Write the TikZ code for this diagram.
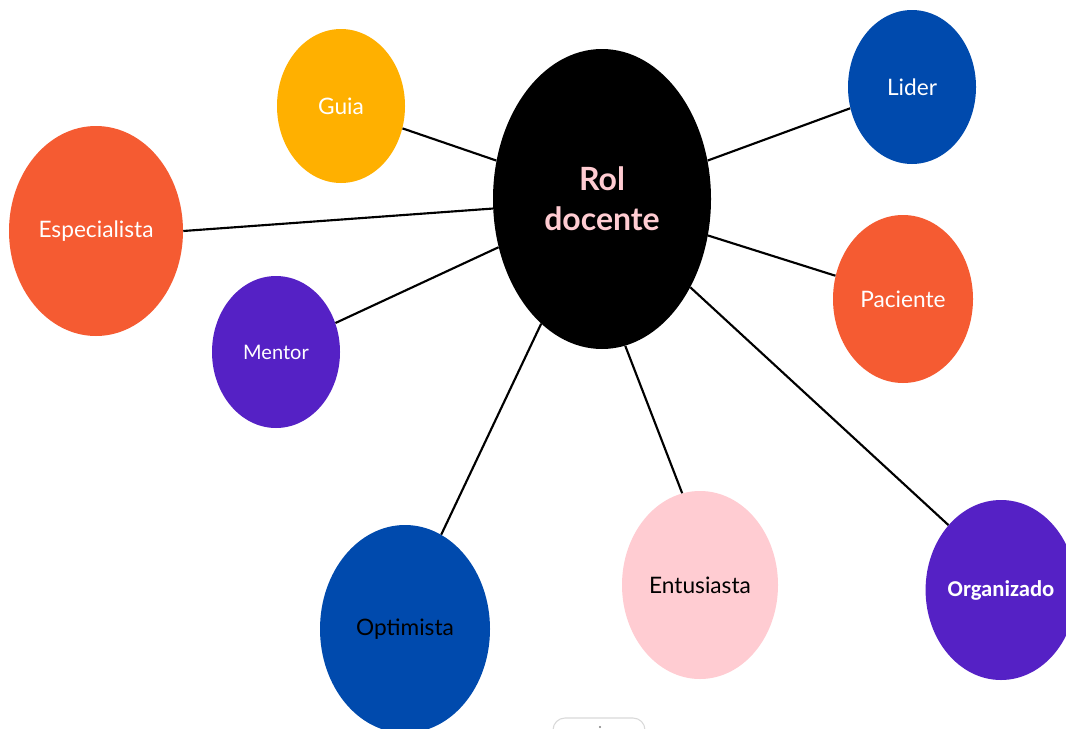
\documentclass[tikz,border=0pt]{standalone}
\usepackage{fontspec}
\setmainfont{Lato}
\newfontfamily\orgfont{Carlito}
\usetikzlibrary{shapes.geometric}
\definecolor{corange}{HTML}{F55B32}
\definecolor{cyellow}{HTML}{FFB000}
\definecolor{cblue}{HTML}{004AAD}
\definecolor{cpurple}{HTML}{5521C5}
\definecolor{cpink}{HTML}{FFCCD2}
\tikzset{
  bub/.style={ellipse, inner sep=0pt, draw=none, align=center},
  lbl/.style={font=\fontsize{17}{20}\selectfont},
  conn/.style={draw=black, line width=1.6pt},
}
\begin{document}
\begin{tikzpicture}[x=0.75pt,y=-0.75pt]
\useasboundingbox (0,0) rectangle (1066,728);
\fill[white] (0,0) rectangle (1066,728);
\node[bub, fill=black, minimum width=163.5pt, minimum height=225pt, text=cpink, font=\fontsize{24}{30}\selectfont\bfseries] (rol) at (602,199) {Rol\\docente};
\node[bub, lbl, fill=cyellow, minimum width=96pt, minimum height=115.5pt, text=white] (guia) at (341,106) {Guia};
\node[bub, lbl, fill=cblue, minimum width=96pt, minimum height=115.5pt, text=white] (lider) at (912,87) {Lider};
\node[bub, lbl, fill=corange, minimum width=130.5pt, minimum height=157.5pt, text=white] (esp) at (96,231) {Especialista};
\node[bub, fill=cpurple, minimum width=96pt, minimum height=114pt, text=white, font=\fontsize{15}{18}\selectfont] (mentor) at (276,352) {Mentor};
\node[bub, lbl, fill=corange, minimum width=105pt, minimum height=126pt, text=white] (pac) at (903,299) {Paciente};
\node[bub, lbl, fill=cblue, minimum width=127.5pt, minimum height=156pt, text=black] (opt) at (405,629) {Optimista};
\node[bub, lbl, fill=cpink, minimum width=117pt, minimum height=141pt, text=black] (ent) at (700,585) {Entusiasta};
\node[bub, fill=cpurple, minimum width=111pt, minimum height=135pt, text=white, font=\orgfont\fontsize{17}{20}\selectfont\bfseries] (org) at (1001,590) {Organizado};
\draw[conn] (rol.160) -- (guia.340.5);
\draw[conn] (rol.185) -- (esp.-0.7);
\draw[conn] (rol.205) -- (mentor.26);
\draw[conn] (rol.244.7) -- (opt.69.7);
\draw[conn] (rol.279.3) -- (ent.101.9);
\draw[conn] (rol.315.6) -- (org.129.5);
\draw[conn] (rol.341) -- (pac.161.6);
\draw[conn] (rol.20.7) -- (lider.199.8);
\draw[black!15, line width=0.8pt, rounded corners=9pt] (553,740) -- (553,718) -- (645,718) -- (645,740);
\fill[black!50] (600,727) circle (1.2);
\end{tikzpicture}
\end{document}
